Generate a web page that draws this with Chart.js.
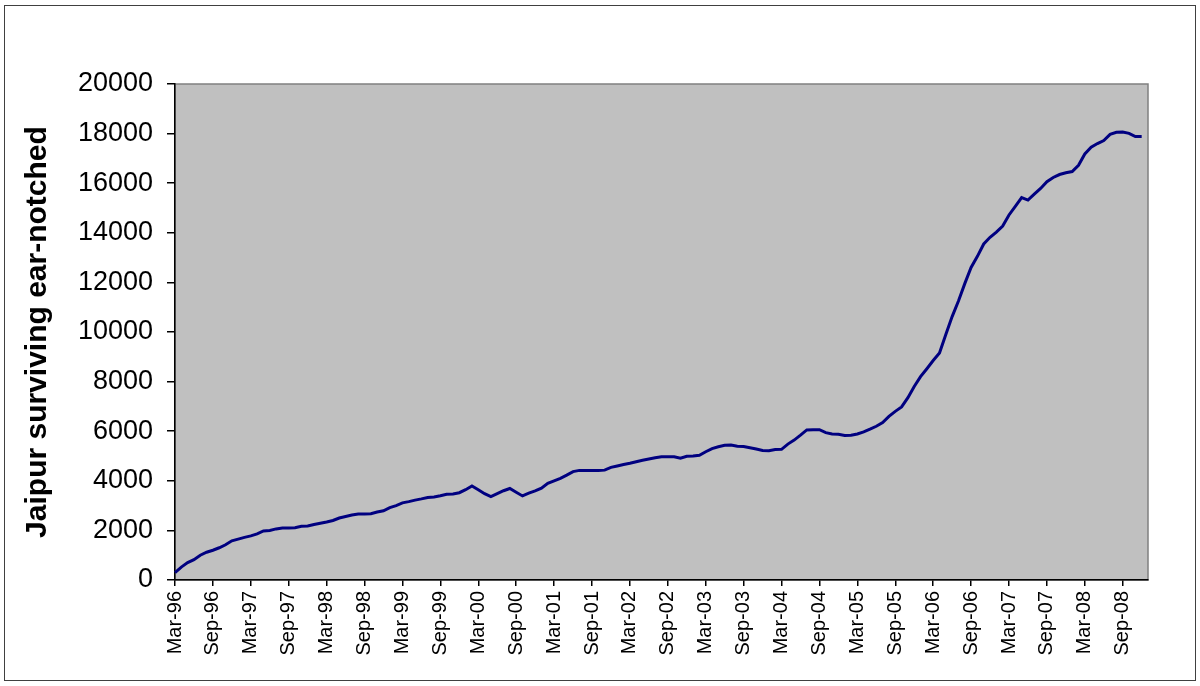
<!DOCTYPE html>
<html>
<head>
<meta charset="utf-8">
<script src="https://cdn.jsdelivr.net/npm/chart.js@4/dist/chart.umd.min.js"></script>
<style>
  html, body { margin: 0; padding: 0; background: #fff; }
  #wrap { width: 1200px; height: 686px; position: relative; }
</style>
</head>
<body>
<div id="wrap"><canvas id="lineChart" width="1200" height="686"></canvas></div>
<script>
const ctxLine = document.getElementById('lineChart');

// months Mar-96 .. Jan-09 (last slot left empty, as in the sheet)
let monthNames = ['Jan', 'Feb', 'Mar', 'Apr', 'May', 'Jun', 'Jul', 'Aug', 'Sep', 'Oct', 'Nov', 'Dec'];
let startYear = 1996, startMonth = 2, monthCount = 155;
let tickEvery = 6;

// surviving ear-notched dogs
let survivors = [
  300, 520, 700, 820, 1000, 1120, 1200, 1300, 1420, 1580,                     // 1996 (Mar-Dec)
  1650, 1720, 1780, 1860, 1980, 2000, 2060, 2100, 2100, 2110, 2170, 2180,     // 1997
  2240, 2290, 2340, 2400, 2500, 2560, 2620, 2660, 2660, 2670, 2740, 2790,     // 1998
  2920, 3000, 3110, 3160, 3220, 3270, 3330, 3350, 3400, 3460, 3470, 3520,     // 1999
  3640, 3790, 3640, 3480, 3360, 3480, 3600, 3690, 3540, 3390, 3500, 3590,     // 2000
  3700, 3900, 4000, 4100, 4230, 4370, 4420, 4420, 4420, 4420, 4430, 4540,     // 2001
  4600, 4660, 4710, 4770, 4830, 4880, 4930, 4970, 4970, 4970, 4910, 4990,     // 2002
  5000, 5030, 5170, 5300, 5370, 5430, 5440, 5390, 5380, 5330, 5280, 5220,     // 2003
  5210, 5260, 5270, 5480, 5640, 5840, 6050, 6060, 6060, 5940, 5890, 5880,     // 2004
  5830, 5840, 5890, 5970, 6080, 6200, 6350, 6600, 6800, 6980, 7350, 7800,     // 2005
  8200, 8520, 8850, 9150, 9900, 10620, 11250, 11950, 12600, 13050, 13550, 13820, // 2006
  14030, 14270, 14720, 15070, 15420, 15320, 15560, 15790, 16060, 16230, 16350, 16420, // 2007
  16470, 16720, 17180, 17450, 17600, 17720, 17970, 18050, 18060, 18010, 17880, 17880, // 2008
  null
];

let yMin = 0, yMax = 20000, yStep = 2000;
let yTitle = 'Jaipur surviving ear-notched';

let monthLabels = [];
for (let i = 0; i < monthCount; i++) {
  let m = startMonth + i;
  let yr = startYear + Math.floor(m / 12);
  monthLabels.push(monthNames[m % 12] + '-' + String(yr).slice(2));
}

const fontFamily = "'Liberation Sans', Arial, sans-serif";

const plotBackground = {
  id: 'plotBackground',
  beforeDraw(chart) {
    const {ctx, chartArea: a} = chart;
    ctx.save();
    ctx.fillStyle = '#C0C0C0';
    ctx.fillRect(a.left, a.top, a.right - a.left, a.bottom - a.top);
    ctx.strokeStyle = '#808080';
    ctx.lineWidth = 1.5;
    ctx.strokeRect(a.left, a.top, a.right - a.left, a.bottom - a.top);
    ctx.restore();
  },
  afterDraw(chart) {
    const ctx = chart.ctx;
    ctx.save();
    ctx.strokeStyle = '#404040';
    ctx.lineWidth = 1;
    ctx.strokeRect(4.5, 5.5, 1191, 675);
    ctx.restore();
  }
};

const lineChart = new Chart(ctxLine, {
  type: 'line',
  data: {
    labels: monthLabels,
    datasets: [{
      data: survivors,
      borderColor: '#000080',
      borderWidth: 3,
      pointRadius: 0,
      fill: false,
      tension: 0
    }]
  },
  options: {
    responsive: false,
    animation: false,
    layout: {
      padding: { top: 84, right: 52, bottom: 0, left: 0 }
    },
    plugins: {
      legend: { display: false },
      tooltip: { enabled: false }
    },
    scales: {
      x: {
        type: 'category',
        offset: false,
        border: { color: '#000', width: 1.5 },
        grid: {
          drawOnChartArea: false,
          tickLength: 6,
          lineWidth: 1.5,
          color: (c) => (c.index % tickEvery === 0 ? '#000' : 'rgba(0,0,0,0)')
        },
        ticks: {
          autoSkip: false,
          maxRotation: 90,
          minRotation: 90,
          padding: 5,
          color: '#000',
          font: { family: fontFamily, size: 20 },
          callback: function (v, i) {
            return i % tickEvery === 0 ? this.getLabelForValue(v) : '';
          }
        },
        afterFit: (scale) => { scale.height = 106; }
      },
      y: {
        min: yMin,
        max: yMax,
        border: { color: '#000', width: 1.5 },
        grid: {
          drawOnChartArea: false,
          tickLength: 8,
          lineWidth: 1.5,
          color: '#000'
        },
        ticks: {
          stepSize: yStep,
          padding: 14,
          color: '#000',
          font: { family: fontFamily, size: 27 },
          callback: (v) => String(v)
        },
        title: {
          display: true,
          text: yTitle,
          color: '#000',
          padding: { top: 20, bottom: 0 },
          font: { family: fontFamily, size: 30, weight: 'bold' }
        },
        afterFit: (scale) => { scale.width = 175; }
      }
    }
  },
  plugins: [plotBackground]
});
</script>
</body>
</html>
